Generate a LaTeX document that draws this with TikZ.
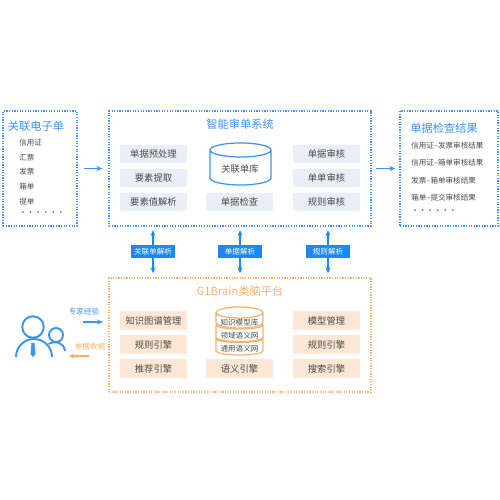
\documentclass[tikz,border=0pt]{standalone}
\usepackage{fontspec}
\setmainfont{Noto Sans CJK SC}
\usepackage{tikz}
\usetikzlibrary{arrows.meta,positioning}
\definecolor{sysblue}{HTML}{3D92F5}
\definecolor{tagblue}{HTML}{1F87F5}
\definecolor{boxblue}{HTML}{E9EFF8}
\definecolor{sysorange}{HTML}{FBB06A}
\definecolor{boxorange}{HTML}{FCE7D4}
\definecolor{inktext}{HTML}{4A4A4A}
\newcommand{\fsmall}{\fontsize{4.3}{5}\selectfont}
\newcommand{\fmid}{\fontsize{5.3}{6}\selectfont}
\newcommand{\ftitle}{\fontsize{6.4}{7.5}\selectfont}
% colour, centre x, top y, half width, height, ellipse radius
\newcommand{\tankat}[6]{%
  \draw[#1, fill=white, line width=0.7pt] (#2-#4,#3-#6) -- (#2-#4,#3-#5+#6) arc[start angle=180, end angle=360, x radius=#4, y radius=#6] -- (#2+#4,#3-#6) arc[start angle=0, end angle=360, x radius=#4, y radius=#6];}

\begin{document}
\begin{tikzpicture}[
  >={Stealth[length=1.2mm,width=1mm]},
  panel/.style={draw=#1, dash pattern=on 0.7pt off 0.8pt, line width=0.8pt, minimum height=23mm, inner sep=0pt},
  blk/.style={fill=#1, minimum width=13.4mm, minimum height=3.7mm, inner sep=0pt, text=inktext, font=\fmid},
  tagbox/.style={fill=tagblue, minimum width=8.8mm, minimum height=2.6mm, inner sep=0pt, text=white, font=\fsmall},
  item/.style={anchor=west, inner sep=0pt, text=inktext, font=\fsmall},
  head/.style={font=\ftitle, text=#1, inner sep=0pt},
  flow/.style={->, line width=0.8pt, draw=#1}]
\useasboundingbox (0,0) rectangle (10,10);
% top row: three dotted panels
\node[panel=sysblue, minimum width=14.8mm] (elec) at (0.8,6.63) {};
\node[panel=sysblue, minimum width=52.4mm] (sys) at (4.8,6.63) {};
\node[panel=sysblue, minimum width=19.6mm] (res) at (8.98,6.63) {};
\node[head=sysblue] (electitle) at (0.72,7.48) {关联电子单};
\node[head=sysblue] (systitle) at (4.8,7.52) {智能审单系统};
\node[head=sysblue] (restitle) at (8.88,7.44) {单据检查结果};
\node[item] (e1) at (0.38,7.14) {信用证};
\node[item] (e2) at (0.38,6.85) {汇票};
\node[item] (e3) at (0.38,6.56) {发票};
\node[item] (e4) at (0.38,6.26) {箱单};
\node[item] (e5) at (0.38,5.96) {提单};
\node[item] (e6) at (0.38,5.72) {······};
\node[item] (r1) at (8.22,7.08) {信用证–发票审核结果};
\node[item] (r2) at (8.22,6.74) {信用证–箱单审核结果};
\node[item] (r3) at (8.22,6.38) {发票–箱单审核结果};
\node[item] (r4) at (8.22,6.04) {箱单–提交审核结果};
\node[item] (r5) at (8.22,5.76) {······};
% blue blocks
\node[blk=boxblue] (pre) at (3.07,6.92) {单据预处理};
\node[blk=boxblue] (ext) at (3.07,6.44) {要素提取};
\node[blk=boxblue] (val) at (3.07,5.96) {要素值解析};
\node[blk=boxblue] (chk) at (4.79,5.96) {单据检查};
\node[blk=boxblue] (doc) at (6.53,6.92) {单据审核};
\node[blk=boxblue] (pair) at (6.53,6.44) {单单审核};
\node[blk=boxblue] (rul) at (6.53,5.96) {规则审核};
\tankat{sysblue}{4.81}{7.14}{0.61}{0.84}{0.14}
\node[text=inktext, font=\fmid, inner sep=0pt] (dblab) at (4.8,6.62) {关联单库};
\draw[flow=sysblue, shorten <=1.2mm, shorten >=1.2mm] (elec) -- (sys);
\draw[flow=sysblue, shorten <=0.8mm, shorten >=0.8mm] (sys) -- (res);
% parsing tags
\node[tagbox] (tag1) at (3.06,4.97) {关联单解析};
\node[tagbox] (tag2) at (4.8,4.97) {单据解析};
\node[tagbox] (tag3) at (6.56,4.97) {规则解析};
% bottom panel
\node[panel=sysorange, minimum width=52.4mm, minimum height=22.8mm] (brain) at (4.8,3.3) {};
\node[head=sysorange] (braintitle) at (4.8,4.18) {G1Brain类脑平台};
\node[blk=boxorange] (kg) at (3.07,3.59) {知识图谱管理};
\node[blk=boxorange] (re1) at (3.07,3.11) {规则引擎};
\node[blk=boxorange] (rec) at (3.07,2.63) {推荐引擎};
\node[blk=boxorange] (sem) at (4.79,2.63) {语义引擎};
\node[blk=boxorange] (mod) at (6.53,3.59) {模型管理};
\node[blk=boxorange] (re2) at (6.53,3.11) {规则引擎};
\node[blk=boxorange] (sea) at (6.53,2.63) {搜索引擎};
\tankat{sysorange}{4.79}{3.31}{0.47}{0.41}{0.08}
\tankat{sysorange}{4.79}{3.58}{0.47}{0.41}{0.08}
\tankat{sysorange}{4.79}{3.86}{0.47}{0.42}{0.11}
\node[text=inktext, font=\fsmall, inner sep=0pt] (l1) at (4.79,3.55) {知识模型库};
\node[text=inktext, font=\fsmall, inner sep=0pt] (l2) at (4.79,3.29) {领域语义网};
\node[text=inktext, font=\fsmall, inner sep=0pt] (l3) at (4.79,3.03) {通用语义网};
\foreach \t in {tag1,tag2,tag3} {
  \draw[flow=tagblue, shorten >=0.7mm] (\t.north) -- (\t.north |- sys.south);
  \draw[flow=tagblue, shorten >=0.8mm] (\t.south) -- (\t.south |- brain.north);
}
% people icon
\node[circle, draw=sysblue, line width=1.1pt, minimum size=4.3mm, inner sep=0pt] (bighead) at (0.66,3.46) {};
\node[circle, draw=sysblue, line width=1.1pt, minimum size=2.8mm, inner sep=0pt] (smallhead) at (1.12,3.3) {};
\draw[sysblue, line width=1.1pt] (0.32,2.86) arc[start angle=180, end angle=0, x radius=0.36, y radius=0.36];
\draw[sysblue, line width=1.1pt] (0.97,3.12) .. controls (1.12,3.2) and (1.28,3.14) .. (1.3,2.98);
\fill[sysblue] (0.63,3.14) -- (0.69,3.14) -- (0.71,2.92) -- (0.66,2.86) -- (0.61,2.92) -- cycle;
% exchange with the platform
\node[font=\fsmall, text=sysblue, inner sep=0pt] (exp) at (1.68,3.76) {专家经验};
\node[font=\fsmall, text=sysorange, inner sep=0pt] (dat) at (1.8,3.06) {单据数据};
\coordinate (expa) at (1.66,3.56);
\coordinate (expb) at (2.06,3.56);
\coordinate (data) at (1.78,2.88);
\coordinate (datb) at (1.37,2.88);
\draw[flow=sysblue] (expa) -- (expb);
\draw[flow=sysorange] (data) -- (datb);
\end{tikzpicture}
\end{document}
